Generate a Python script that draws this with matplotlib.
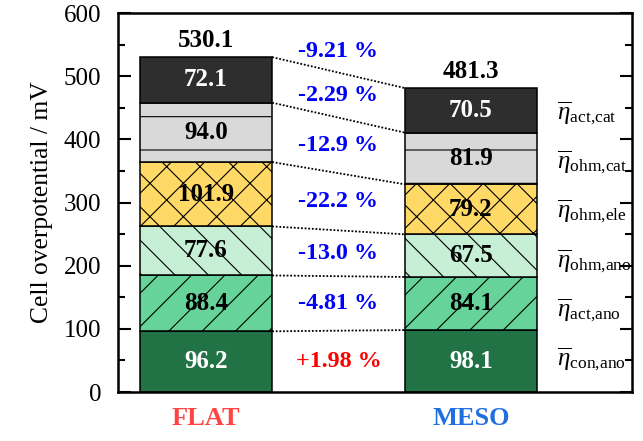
import matplotlib
matplotlib.use("Agg")
import matplotlib.pyplot as plt
import numpy as np
from matplotlib.ticker import MultipleLocator

plt.rcParams.update({
    'font.family': 'Liberation Serif',
    'mathtext.fontset': 'custom',
    'mathtext.rm': 'Liberation Serif',
    'mathtext.it': 'Liberation Serif:italic',
    'mathtext.bf': 'Liberation Serif:bold',
    'hatch.linewidth': 0.4,
})

# Overpotential contributions (mV), bottom to top
cells = ['FLAT', 'MESO']
components = ['con,ano', 'act,ano', 'ohm,ano', 'ohm,ele', 'ohm,cat', 'act,cat']
flat = [96.2, 88.4, 77.6, 101.9, 94.0, 72.1]
meso = [98.1, 84.1, 67.5, 79.2, 81.9, 70.5]
totals = [530.1, 481.3]
changes = ['+1.98 %', '-4.81 %', '-13.0 %', '-22.2 %', '-12.9 %', '-2.29 %']
total_change = '-9.21 %'

colors = ['#217346', '#66D49A', '#C6EFD6', '#FFD966', '#D9D9D9', '#2E2E2E']
hatches = ['', '//', '\\\\', 'xx', '-', '']
text_colors = ['white', 'black', 'black', 'black', 'black', 'white']
cell_colors = ['#FF4444', '#1F6FE0']

fig = plt.figure(figsize=(3.215, 2.205), dpi=200)
ax = fig.add_axes([0.1835, 0.111, 0.7994, 0.8594])

x = np.arange(len(cells))
width = 0.5
data = np.array([flat, meso])
bottoms = np.zeros(len(cells))

for i in range(len(components)):
    vals = data[:, i]
    ax.bar(x, vals, width, bottom=bottoms, color=colors[i], hatch=hatches[i],
           edgecolor='black', linewidth=0.55, zorder=2)
    for j in range(len(cells)):
        ax.text(x[j], bottoms[j] + vals[j] / 2, f'{vals[j]:.1f}', ha='center',
                va='center', fontsize=9, fontweight='bold', color=text_colors[i], zorder=3)
    bottoms = bottoms + vals

# Dotted connectors between matching segment tops
cum = np.cumsum(data, axis=1)
for i in range(len(components)):
    ax.plot([x[0] + width / 2, x[1] - width / 2], [cum[0, i], cum[1, i]],
            linestyle=(0, (1, 1)), color='black', linewidth=0.65, zorder=1)

# Relative change between the two cells for each contribution
centers = cum - data / 2
for i in range(len(components)):
    c = 'red' if changes[i].startswith('+') else 'blue'
    ax.text(0.5, centers[:, i].mean(), changes[i], ha='center', va='center',
            fontsize=8.7, fontweight='bold', color=c)
ax.text(0.5, np.mean(totals) + 33, total_change, ha='center', va='center',
        fontsize=8.7, fontweight='bold', color='blue')

for j in range(len(cells)):
    ax.text(x[j], totals[j] + 26, f'{totals[j]:.1f}', ha='center', va='center',
            fontsize=9, fontweight='bold')

# Legend-style labels on the right
for i, comp in enumerate(components):
    sub = comp.replace(',', '{,}')
    ax.text(1.325, 52 + 78 * i, r'$\overline{\eta}_{\mathrm{' + sub + '}}$',
            ha='left', va='center', fontsize=9)

ax.set_xlim(-0.332, 1.608)
ax.set_ylim(0, 600)
ax.set_xticks(x)
ax.set_xticklabels(cells, fontsize=9.5, fontweight='bold')
for lbl, c in zip(ax.get_xticklabels(), cell_colors):
    lbl.set_color(c)
ax.tick_params(axis='x', length=0, pad=5.5)

ax.yaxis.set_major_locator(MultipleLocator(100))
ax.yaxis.set_minor_locator(MultipleLocator(50))
ax.tick_params(axis='y', which='both', direction='in', right=True, labelsize=9, pad=6)
ax.tick_params(axis='y', which='major', length=4.5, width=0.75)
ax.tick_params(axis='y', which='minor', length=2.5, width=0.75)
ax.set_ylabel('Cell overpotential / mV', fontsize=9.2, labelpad=4)

for s in ax.spines.values():
    s.set_linewidth(0.9)

fig.savefig('out.png', dpi=200)
